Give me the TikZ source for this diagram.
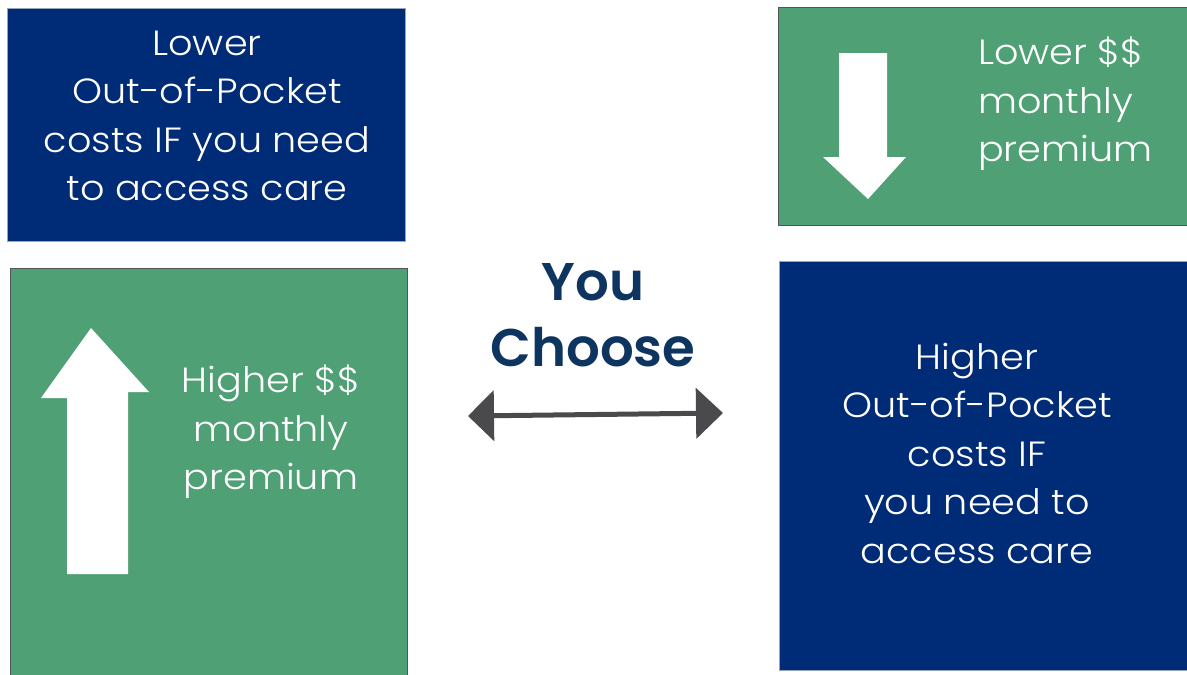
\documentclass[tikz,border=0pt]{standalone}
\usepackage{fontspec}
\setmainfont{Poppins}[UprightFont=* Light, UprightFeatures={FakeStretch=1.09}, BoldFont=* SemiBold]
\usetikzlibrary{arrows.meta}
\definecolor{navy}{RGB}{0,43,118}
\definecolor{navyedge}{RGB}{150,165,190}
\definecolor{boxgreen}{RGB}{79,161,117}
\definecolor{edgegray}{RGB}{80,85,85}
\definecolor{titleblue}{RGB}{14,53,96}
\definecolor{arrowgray}{RGB}{74,74,76}
\begin{document}
\begin{tikzpicture}[x=1pt,y=-1pt]
\tikzset{
  bluebox/.style={rectangle, fill=navy, draw=navyedge, line width=0.6pt, inner sep=0pt, anchor=north west},
  greenbox/.style={rectangle, fill=boxgreen, draw=edgegray, line width=1pt, inner sep=0pt, anchor=north west},
  boxtext/.style={text=white, font=\fontsize{35}{48.5}\selectfont, inner sep=0pt},
  titletext/.style={text=titleblue, font=\fontsize{53}{66}\selectfont\bfseries, align=center, inner sep=0pt},
  fatarrow/.style={fill=white, draw=none},
  choice/.style={draw=arrowgray, line width=5pt, {Triangle[width=50pt,length=26pt]}-{Triangle[width=50pt,length=27pt]}}
}
\fill[white] (0,0) rectangle (1187,675);
\useasboundingbox (0,0) rectangle (1187,675);

% boxes
\node[bluebox, minimum width=398pt, minimum height=233pt] (tl) at (7,8) {};
\node[greenbox, minimum width=410pt, minimum height=218pt] (tr) at (778,7) {};
\node[greenbox, minimum width=397pt, minimum height=420pt] (bl) at (10,268) {};
\node[bluebox, minimum width=410pt, minimum height=409pt] (br) at (779,261) {};

% fat arrows
\fill[fatarrow] (839,53) -- (887,53) -- (887,157) -- (906,157) -- (868,199) -- (823,157) -- (839,157) -- cycle;
\fill[fatarrow] (91,328) -- (149,392) -- (128,392) -- (128,574) -- (67,574) -- (67,398) -- (41,398) -- cycle;

% texts
\node[boxtext, align=center] (tltext) at (207,116) {Lower\\Out-of-Pocket\\costs IF you need\\to access care};
\node[boxtext, align=left, anchor=west] (trtext) at (978,104) {Lower \$\$\\monthly\\premium};
\node[boxtext, align=center] (bltext) at (271,432) {Higher \$\$\\monthly\\premium};
\node[boxtext, align=center] (brtext) at (977,453) {Higher\\Out-of-Pocket\\costs IF\\you need to\\access care};
\node[titletext] (title) at (593,315) {You\\Choose};

% double arrow
\coordinate (la) at (468,416);
\coordinate (ra) at (723,413);
\draw[choice] (la) -- (ra);
\end{tikzpicture}
\end{document}
